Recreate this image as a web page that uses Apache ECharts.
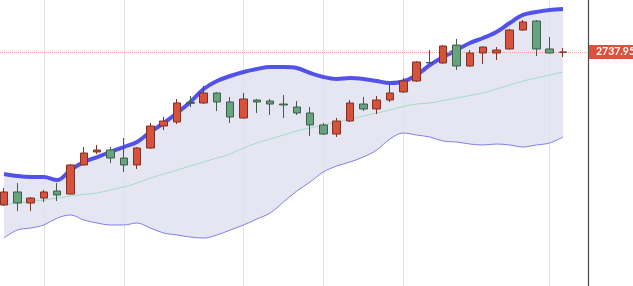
<!DOCTYPE html>
<html>
<head>
<meta charset="utf-8">
<script src="https://cdn.jsdelivr.net/npm/echarts@6/dist/echarts.min.js"></script>
<style>
html,body{margin:0;padding:0;background:#fff;}
#chart{width:633px;height:286px;}
</style>
</head>
<body>
<div id="chart"></div>
<script>
// candle values (price)
const opens  = [2482.5,2504.2,2485.8,2494.1,2505.8,2500.8,2549.3,2571.0,2574.3,2560.9,2549.3,2577.6,2614.4,2621.1,2653.6,2652.8,2669.5,2654.5,2627.7,2657.8,2656.1,2651.1,2646.1,2636.1,2616.1,2601.0,2622.7,2651.1,2642.8,2657.8,2671.2,2689.5,2720.4,2719.6,2749.6,2714.6,2736.3,2736.3,2743.0,2774.7,2789.7,2743.0,2737.6];
const closes = [2504.2,2485.8,2494.1,2504.2,2499.2,2549.3,2569.3,2574.3,2560.9,2549.3,2577.6,2614.4,2622.7,2652.8,2652.3,2669.5,2654.5,2629.4,2659.5,2654.5,2651.1,2649.5,2636.1,2616.1,2601.0,2622.7,2652.8,2642.8,2657.8,2669.5,2689.5,2721.3,2719.6,2748.0,2714.6,2736.3,2746.3,2741.3,2774.7,2788.1,2743.0,2736.3,2737.95];
const lows   = [2480.8,2472.4,2472.4,2487.5,2489.1,2500.0,2548.0,2567.6,2552.6,2537.6,2542.6,2576.0,2607.7,2617.7,2646.1,2651.5,2639.4,2619.4,2627.0,2636.1,2632.8,2627.7,2632.8,2597.7,2599.3,2596.0,2621.0,2639.4,2634.4,2654.5,2669.5,2688.0,2718.8,2718.5,2707.9,2713.5,2717.9,2724.6,2742.0,2773.5,2731.3,2735.5,2729.6];
const highs  = [2510.8,2519.2,2495.8,2507.5,2519.2,2550.9,2579.3,2582.7,2579.3,2594.3,2579.3,2619.4,2629.4,2659.5,2664.5,2681.2,2670.5,2662.8,2669.5,2659.5,2659.5,2666.2,2656.1,2646.1,2619.4,2627.7,2657.8,2662.8,2664.5,2684.5,2694.5,2722.9,2741.3,2749.6,2759.7,2741.3,2747.0,2746.3,2776.4,2791.4,2791.4,2763.0,2744.6];

// bands
const upperBand  = [2534.2,2530.9,2529.2,2529.2,2524.2,2540.9,2554.3,2562.6,2571.0,2579.3,2587.7,2604.4,2619.4,2636.1,2654.5,2676.2,2689.5,2697.9,2704.6,2709.6,2712.9,2712.9,2711.2,2702.9,2696.2,2692.9,2694.5,2692.9,2689.5,2686.2,2688.7,2699.6,2716.2,2729.6,2741.3,2753.0,2761.3,2771.4,2786.4,2799.8,2804.8,2808.1,2809.8];
const middleBand = [2482.5,2485.8,2488.3,2490.8,2494.1,2497.5,2500.0,2502.5,2507.5,2512.5,2519.2,2527.5,2534.2,2540.9,2547.6,2554.3,2560.9,2567.6,2577.6,2586.0,2592.7,2599.3,2606.0,2611.0,2616.1,2621.1,2626.1,2631.1,2636.1,2641.1,2647.0,2651.1,2652.8,2657.0,2661.1,2665.3,2669.5,2676.2,2682.8,2689.5,2694.5,2699.6,2704.6];
const lowerBand  = [2427.3,2440.7,2444.0,2449.1,2460.7,2465.8,2457.4,2452.4,2449.1,2449.1,2452.4,2444.0,2435.7,2432.4,2429.0,2427.3,2432.4,2440.7,2449.1,2459.1,2469.1,2487.5,2505.8,2520.9,2537.6,2547.6,2554.3,2562.6,2574.3,2592.7,2602.7,2599.3,2596.0,2589.3,2587.7,2584.3,2582.7,2584.3,2582.7,2579.3,2582.7,2586.0,2596.0];

// vertical divider positions (candle index) and current price
const dividerIdx = [3, 9, 18, 24, 30, 41];
const lastPrice = 2737.95;

const candleData = opens.map((o, i) => [i, o, closes[i], lows[i], highs[i]]);
const pair = arr => arr.map((v, i) => [i, v]);

const chart = echarts.init(document.getElementById('chart'), null, {renderer: 'canvas'});
const SM = 0.35;
chart.setOption({
  animation: false,
  backgroundColor: '#ffffff',
  grid: {left: 0, right: 45, top: 0, bottom: 0, containLabel: false},
  xAxis: {
    type: 'value', min: -0.3, max: 43.88,
    axisLine: {show: false, onZero: false}, axisTick: {show: false}, axisLabel: {show: false}, splitLine: {show: false}
  },
  yAxis: {
    type: 'value', position: 'right', min: 2347.2, max: 2824.8,
    axisLine: {show: true, onZero: false, lineStyle: {color: '#4a4a4a', width: 1.2}},
    axisTick: {show: false}, axisLabel: {show: false}, splitLine: {show: false}
  },
  series: [
    {
      type: 'line', data: pair(upperBand), smooth: SM, symbol: 'none', silent: true, z: 0,
      lineStyle: {opacity: 0}, areaStyle: {color: '#e6e6f2', opacity: 1, origin: 'start'}
    },
    {
      type: 'line', data: pair(lowerBand), smooth: SM, symbol: 'none', silent: true, z: 0,
      lineStyle: {opacity: 0}, areaStyle: {color: '#ffffff', opacity: 1, origin: 'start'}
    },
    {
      type: 'line', data: [], symbol: 'none', silent: true, z: 1,
      markLine: {
        z: 1, silent: true, symbol: ['none', 'none'], label: {show: false},
        lineStyle: {color: '#dde3ea', width: 1, type: 'solid'},
        data: dividerIdx.map(i => ({xAxis: i}))
      }
    },
    {
      type: 'line', data: pair(middleBand), smooth: SM, symbol: 'none', z: 2,
      lineStyle: {color: '#a2dcc6', width: 1}
    },
    {
      type: 'line', data: pair(lowerBand), smooth: SM, symbol: 'none', z: 2,
      lineStyle: {color: '#7f7fe6', width: 1}
    },
    {
      type: 'line', data: pair(upperBand), smooth: SM, symbol: 'none', z: 2,
      lineStyle: {color: '#5252ea', width: 4}
    },
    {
      type: 'line', data: [], symbol: 'none', silent: true, z: 3,
      markLine: {
        z: 3, silent: true, symbol: ['none', 'none'],
        lineStyle: {color: '#f0aaa0', width: 1, type: 'dotted'},
        label: {
          show: true, position: 'end', distance: 1,
          formatter: String(lastPrice),
          color: '#ffffff', backgroundColor: '#d9533c',
          fontFamily: 'Lato, sans-serif', fontSize: 10.5, fontWeight: 'bold',
          padding: [2, 5, 1, 7]
        },
        data: [{yAxis: lastPrice}]
      }
    },
    {
      type: 'candlestick', data: candleData, barWidth: 8, z: 4,
      itemStyle: {
        color: '#d8513b', color0: '#67a37f',
        borderColor: '#7b3327', borderColor0: '#3e5e4b', borderWidth: 1
      }
    }
  ]
});
</script>
</body>
</html>
